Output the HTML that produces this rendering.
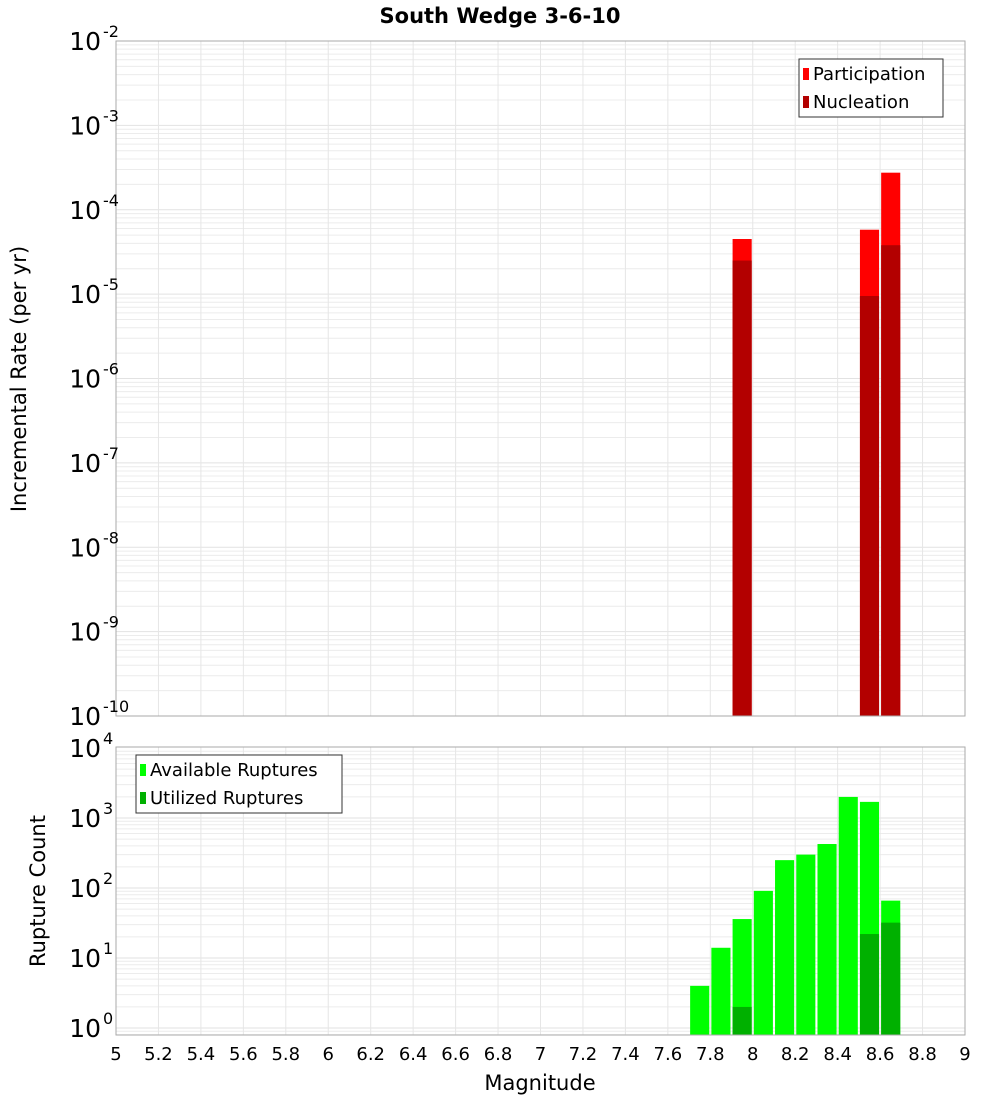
<!DOCTYPE html>
<html><head><meta charset="utf-8"><style>
html,body{margin:0;padding:0;background:#fff;}
svg{display:block;font-family:"DejaVu Sans","Liberation Sans",sans-serif;}
</style></head><body>
<svg id="c" width="1000" height="1100" xmlns="http://www.w3.org/2000/svg">
<text x="500" y="23" text-anchor="middle" font-size="21" font-weight="bold">South Wedge 3-6-10</text>
<text transform="translate(26,379) rotate(-90)" text-anchor="middle" font-size="21">Incremental Rate (per yr)</text>
<text transform="translate(45,891) rotate(-90)" text-anchor="middle" font-size="21">Rupture Count</text>
<text x="540" y="1090" text-anchor="middle" font-size="21">Magnitude</text>
</svg>
<script>
const mags = [7.75,7.85,7.95,8.05,8.15,8.25,8.35,8.45,8.55,8.65];
const participation = [0,0,4.5e-5,0,0,0,0,0,5.8e-5,2.75e-4];
const nucleation = [0,0,2.5e-5,0,0,0,0,0,9.5e-6,3.8e-5];
const available = [4,14,36,91,250,300,425,2000,1700,66];
const utilized = [0,0,2,0,0,0,0,0,22,32];
const xTicks = [5,5.2,5.4,5.6,5.8,6,6.2,6.4,6.6,6.8,7,7.2,7.4,7.6,7.8,8,8.2,8.4,8.6,8.8,9];
const topExps = [-10,-9,-8,-7,-6,-5,-4,-3,-2];
const botExps = [0,1,2,3,4];

const NS="http://www.w3.org/2000/svg";
const svg=document.getElementById('c');
const X0=116,X1=965;
const x=m=>X0+(m-5)*(X1-X0)/4;
const T0=41,T1=716;
const yTop=v=>T0+(-2-Math.log10(v))*(T1-T0)/8;
const B0=748,BD=70,BBOT=1035;
const yBot=v=>B0+(4-Math.log10(v))*BD;
function el(tag,attrs,parent){const e=document.createElementNS(NS,tag);for(const k in attrs)e.setAttribute(k,attrs[k]);(parent||svg).appendChild(e);return e;}

function panel(top,bottom,yfn,exps,name){
  const g=el('g',{});
  
  
  for(let i=0;i<exps.length;i++){
    const e=exps[i];
    for(let k=1;k<=9;k++){
      const yy=yfn(k*Math.pow(10,e));
      if(yy<top-0.5||yy>bottom+0.5)continue;
      el('line',{x1:X0,x2:X1,y1:yy,y2:yy,stroke:k==1?'#e2e2e2':'#ececec','stroke-width':1},g);
    }
  }
  for(const t of xTicks){const xx=x(t);el('line',{x1:xx,x2:xx,y1:top,y2:bottom,stroke:'#e6e6e6'},g);}
}
panel(T0,T1,yTop,[-10,-9,-8,-7,-6,-5,-4,-3],'top');
panel(747,BBOT,yBot,[-1,0,1,2,3],'bottom');

const bw=(X1-X0)/40*0.9;
for(let i=0;i<mags.length;i++){
  const cx=x(mags[i]);
  if(participation[i]>0){const yy=yTop(participation[i]);const r=el('rect',{x:cx-bw/2,y:yy,width:bw,height:T1-yy,fill:'#ff0000'});
    
    }
  if(nucleation[i]>0){const yy=yTop(nucleation[i]);const r=el('rect',{x:cx-bw/2,y:yy,width:bw,height:T1-yy,fill:'#b30000'});
    
    }
  if(available[i]>0){const yy=yBot(available[i]);const r=el('rect',{x:cx-bw/2,y:yy,width:bw,height:BBOT-yy,fill:'#00ff00'});
    
    }
  if(utilized[i]>0){const yy=yBot(utilized[i]);const r=el('rect',{x:cx-bw/2,y:yy,width:bw,height:BBOT-yy,fill:'#00b000'});
    
    }
}
const f1=el('rect',{x:X0,y:T0,width:X1-X0,height:T1-T0,fill:'none',stroke:'#aaa'});


const f2=el('rect',{x:X0,y:747,width:X1-X0,height:BBOT-747,fill:'none',stroke:'#aaa'});



function ylab(yy,e,nm){
  const t=el('text',{x:101,y:yy+9,'text-anchor':'end','font-size':25});
  t.textContent='10';
  
  
  const s=el('text',{x:103,y:yy-4,'font-size':16});
  s.textContent=String(e);
  
  
}
for(const e of topExps)ylab(yTop(Math.pow(10,e)),e,'top-y-tick-label');
for(const e of botExps)ylab(yBot(Math.pow(10,e)),e,'bottom-y-tick-label');
for(const t of xTicks){
  const tx=el('text',{x:x(t),y:1060,'text-anchor':'middle','font-size':18});
  tx.textContent=String(t);
  
  
}
function legend(x0,y0,w,items,nm){
  const g=el('g',{});
  
  
  el('rect',{x:x0,y:y0,width:w,height:58,fill:'#fff',stroke:'#333'},g);
  items.forEach((it,i)=>{
    el('rect',{x:x0+4,y:y0+9+i*28,width:6,height:12,fill:it[1]},g);
    const t=el('text',{x:x0+14,y:y0+21+i*28,'font-size':18},g);
    t.textContent=it[0];
  });
}
legend(799,59,144,[['Participation','#ff0000'],['Nucleation','#b30000']],'top-legend');
legend(136,755,206,[['Available Ruptures','#00ff00'],['Utilized Ruptures','#00b000']],'bottom-legend');
</script>
</body></html>
